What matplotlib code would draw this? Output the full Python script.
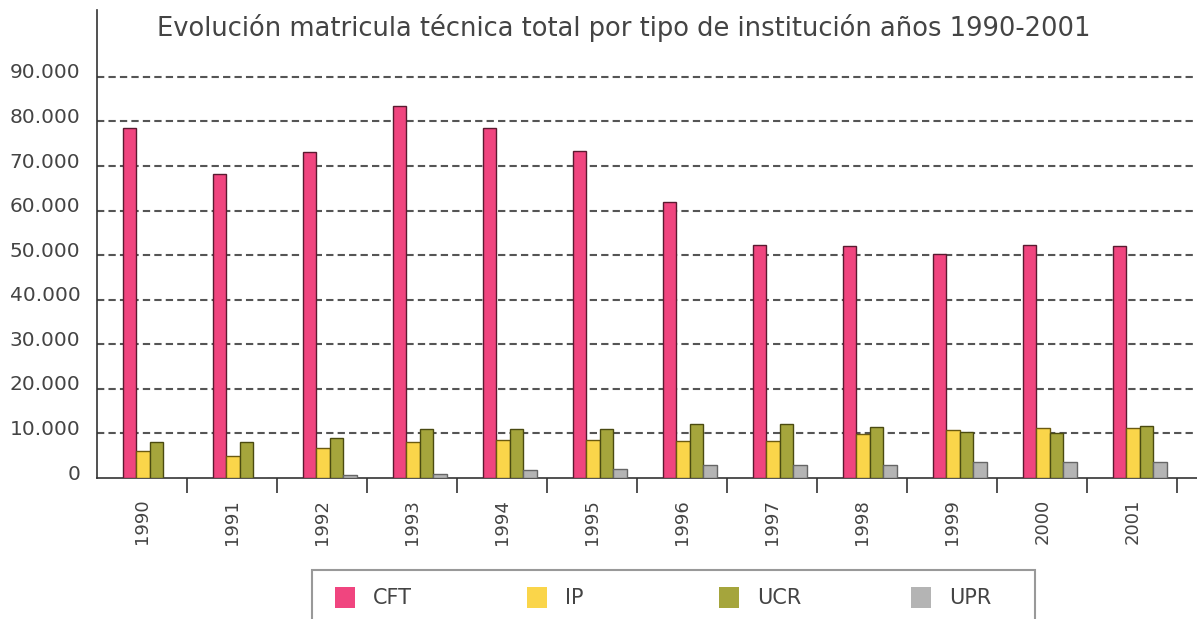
import matplotlib
matplotlib.use("Agg")
import matplotlib.pyplot as plt
from matplotlib.patches import Rectangle
from matplotlib.transforms import ScaledTranslation
import numpy as np

# datos
anios = ["1990", "1991", "1992", "1993", "1994", "1995",
         "1996", "1997", "1998", "1999", "2000", "2001"]
cft = [78500, 68300, 73200, 83500, 78500, 73300, 62000, 52300, 52000, 50300, 52200, 52000]
ip = [6000, 4900, 6800, 8100, 8500, 8500, 8200, 8200, 9800, 10750, 11200, 11200]
ucr = [8100, 8100, 8900, 11050, 11050, 11000, 12200, 12200, 11400, 10400, 10000, 11650]
upr = [0, 0, 750, 900, 1900, 2000, 2900, 2900, 2900, 3500, 3700, 3500]

series = {"CFT": cft, "IP": ip, "UCR": ucr, "UPR": upr}
colores = ["#F0457F", "#FAD54A", "#A5A53C", "#B4B4B4"]
bordes = ["#5a1a30", "#6b5a10", "#4a4a10", "#666666"]
yticks = [0, 10000, 20000, 30000, 40000, 50000, 60000, 70000, 80000, 90000]

W, H = 1197, 619
fig = plt.figure(figsize=(W / 100, H / 100), dpi=100)
fig.patch.set_facecolor("white")
ax = fig.add_axes([97 / W, 1 - 478 / H, 1 - 97 / W, (478 - 10) / H])

x = np.arange(len(anios))
ancho = 0.15
for k, (nombre, valores) in enumerate(series.items()):
    ax.bar(x - 0.215 + k * ancho, valores, width=ancho, align="edge",
           color=colores[k], edgecolor=bordes[k], linewidth=1.0, zorder=3)

ax.set_xlim(-0.5, 11.72)
ax.set_ylim(0, 105000)

# grilla punteada
ax.set_yticks(yticks)
ax.set_yticklabels([f"{v:,}".replace(",", ".") for v in yticks])
for v in yticks[1:]:
    ax.axhline(v, color="#555555", linewidth=1.5, linestyle=(0, (3.5, 2)), zorder=1)

ax.tick_params(axis="y", length=0, pad=12, labelsize=14.5, labelcolor="#444444")
desplazamiento = ScaledTranslation(0, 0.06, fig.dpi_scale_trans)
for lab in ax.get_yticklabels():
    lab.set_transform(lab.get_transform() + desplazamiento)

ax.set_xticks(x)
ax.set_xticklabels(anios, rotation=90)
ax.tick_params(axis="x", which="major", length=0, pad=15, labelsize=13, labelcolor="#444444")
ax.set_xticks(np.arange(0.5, 12, 1), minor=True)
ax.tick_params(axis="x", which="minor", direction="out", length=11, width=1.2, color="#333333")

for lado in ["top", "right"]:
    ax.spines[lado].set_visible(False)
for lado in ["left", "bottom"]:
    ax.spines[lado].set_color("#333333")
    ax.spines[lado].set_linewidth(1.2)

fig.text(624 / W, 1 - 28 / H,
         "Evolución matricula técnica total por tipo de institución años 1990-2001",
         ha="center", va="center", fontsize=18.5, color="#444444")

# leyenda dibujada a mano para respetar el espaciado del original
fig.patches.append(Rectangle((312 / W, 1 - 630 / H), (1035 - 312) / W, 60 / H,
                             transform=fig.transFigure, facecolor="none",
                             edgecolor="#999999", linewidth=1.5))
for k, nombre in enumerate(series):
    x0 = 335 + k * 192
    fig.patches.append(Rectangle((x0 / W, 1 - 608 / H), 20 / W, 21 / H,
                                 transform=fig.transFigure, facecolor=colores[k],
                                 edgecolor="none"))
    fig.text((x0 + 38) / W, 1 - 598 / H, nombre, ha="left", va="center",
             fontsize=15, color="#444444")

fig.savefig("out.png", dpi=100)
